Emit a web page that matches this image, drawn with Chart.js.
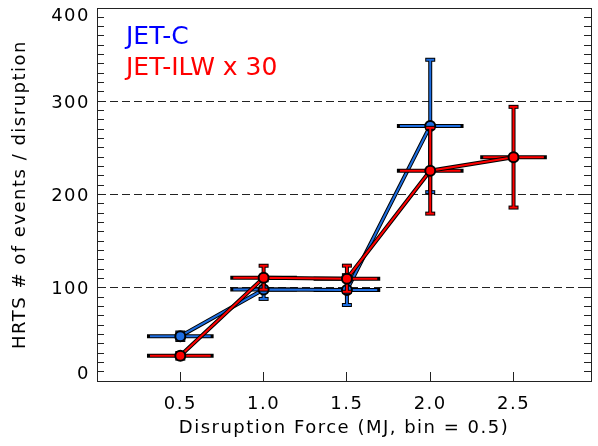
<!DOCTYPE html>
<html>
<head>
<meta charset="utf-8">
<script src="https://cdn.jsdelivr.net/npm/chart.js@4.4.1/dist/chart.umd.min.js"></script>
<style>
  html, body { margin: 0; padding: 0; background: #fff; }
  canvas { display: block; }
</style>
</head>
<body>
<canvas id="c" width="598" height="446"></canvas>
<script>
// HRTS events per disruption vs disruption force, JET-C vs JET-ILW (x30)
const forceBins = [0.5, 1.0, 1.5, 2.0, 2.5];
const binHalfWidth = 0.2;
const jetC = [48, 98, 97.5, 273.5];
const jetCErr = [4, 10, 16, 71];
const jetIlw = [27, 110.8, 109.7, 225.5, 240];
const jetIlwErr = [3, 12.8, 14, 46, 54];
const xTickValues = [0.5, 1.0, 1.5, 2.0, 2.5];
const yTickLabels = [0, 100, 200, 300, 400];
const legendLabels = ['JET-C', 'JET-ILW x 30'];

const BLUE = '#1e6ee1';
const RED = '#ff0000';
const AXIS = '#222';
const FONT = 'DejaVu Sans';

function pts(ys) { return ys.map((y, i) => ({ x: forceBins[i], y })); }

// minor tick marks every 10 on both y axes
function yMinorTicks() {
  const t = [];
  for (let v = 0; v <= 400; v += 10) t.push({ value: v });
  return t;
}

function seg(ctx, x1, y1, x2, y2, color, w) {
  ctx.strokeStyle = color;
  ctx.lineWidth = w;
  ctx.lineCap = 'butt';
  ctx.beginPath();
  ctx.moveTo(x1, y1);
  ctx.lineTo(x2, y2);
  ctx.stroke();
}

// error bars (x = bin width, y = errY) drawn just before each series' outline line
const errorBars = {
  id: 'errorBars',
  beforeDatasetDraw(chart, args) {
    const ds = chart.data.datasets[args.index];
    if (!ds.errY) return;
    const { ctx, scales: { x, y } } = chart;
    ctx.save();
    const bars = ds.data.map((p, i) => ({
      px: x.getPixelForValue(p.x),
      py: y.getPixelForValue(p.y),
      xl: x.getPixelForValue(p.x - binHalfWidth),
      xr: x.getPixelForValue(p.x + binHalfWidth),
      yt: y.getPixelForValue(p.y + ds.errY[i]),
      yb: y.getPixelForValue(p.y - ds.errY[i]),
    }));
    bars.forEach((b) => {
      seg(ctx, b.xl, b.py, b.xr, b.py, '#000', 4);
      seg(ctx, b.px, b.yt, b.px, b.yb, '#000', 4);
      [b.yt, b.yb].forEach((cy) => seg(ctx, b.px - 5, cy, b.px + 5, cy, '#000', 4));
    });
    bars.forEach((b) => {
      seg(ctx, b.xl + 3, b.py, b.xr - 3, b.py, ds.errColor, 2);
      seg(ctx, b.px, b.yt, b.px, b.yb, ds.errColor, 2);
      [b.yt, b.yb].forEach((cy) => seg(ctx, b.px - 4, cy, b.px + 4, cy, ds.errColor, 2));
    });
    ctx.restore();
  },
};

// y labels are kept inside the axis range at the ends, like the original plot
const yLabels = {
  id: 'yLabels',
  afterDraw(chart) {
    const { ctx, chartArea, scales: { y } } = chart;
    ctx.save();
    ctx.font = `18px ${FONT}`;
    ctx.fillStyle = '#000';
    ctx.textAlign = 'right';
    ctx.textBaseline = 'middle';
    yTickLabels.forEach((v) => {
      let py = y.getPixelForValue(v) + 2;
      py = Math.min(Math.max(py, chartArea.top + 8), chartArea.bottom - 7);
      ctx.fillText(String(v), chartArea.left - 7, py);
    });
    ctx.restore();
  },
};

const legendText = {
  id: 'legendText',
  afterDatasetsDraw(chart) {
    const { ctx, chartArea } = chart;
    const colors = ['#0000ff', '#ff0000'];
    ctx.save();
    ctx.letterSpacing = '0px';
    ctx.font = `25px ${FONT}`;
    ctx.textAlign = 'left';
    ctx.textBaseline = 'alphabetic';
    legendLabels.forEach((t, i) => {
      ctx.fillStyle = colors[i];
      ctx.fillText(t, chartArea.left + 29, chartArea.top + 36 + 31 * i);
    });
    ctx.restore();
  },
};

const textSpacing = {
  id: 'textSpacing',
  beforeDraw(chart) { chart.ctx.letterSpacing = '1.5px'; },
};

new Chart(document.getElementById('c'), {
  type: 'scatter',
  data: {
    datasets: [
      { label: legendLabels[1], data: pts(jetIlw), showLine: true, borderColor: RED, borderWidth: 2,
        pointRadius: 5, pointBackgroundColor: RED, pointBorderColor: '#000', pointBorderWidth: 2 },
      { data: pts(jetIlw), showLine: true, borderColor: '#000', borderWidth: 4, pointRadius: 0,
        errY: jetIlwErr, errColor: RED },
      { label: legendLabels[0], data: pts(jetC), showLine: true, borderColor: BLUE, borderWidth: 2,
        pointRadius: 5, pointBackgroundColor: BLUE, pointBorderColor: '#000', pointBorderWidth: 2 },
      { data: pts(jetC), showLine: true, borderColor: '#000', borderWidth: 4, pointRadius: 0,
        errY: jetCErr, errColor: BLUE },
    ],
  },
  options: {
    responsive: false,
    animation: false,
    layout: { padding: { top: 8, left: 0, right: 0, bottom: 0 } },
    plugins: { legend: { display: false }, tooltip: { enabled: false } },
    scales: {
      x: {
        type: 'linear', position: 'bottom', min: 0, max: 2.965,
        afterBuildTicks: (s) => { s.ticks = xTickValues.map((v) => ({ value: v })); },
        afterFit: (s) => { s.height = 65; },
        ticks: { callback: (v) => Number(v).toFixed(1), color: '#000', font: { family: FONT, size: 18 },
          padding: 22, maxRotation: 0, autoSkip: false },
        grid: { drawOnChartArea: false, tickLength: -9, tickColor: AXIS, tickWidth: 1 },
        border: { color: AXIS, width: 1 },
        title: { display: true, text: 'Disruption Force (MJ, bin = 0.5)', color: '#000',
          font: { family: FONT, size: 18 }, padding: { top: 0, bottom: 7 } },
      },
      x2: {
        type: 'linear', position: 'top', min: 0, max: 2.965,
        afterFit: (s) => { s.height = 0; },
        ticks: { display: false },
        grid: { drawOnChartArea: false, drawTicks: false },
        border: { color: AXIS, width: 1 },
      },
      y: {
        type: 'linear', position: 'left', min: 0, max: 400,
        afterBuildTicks: (s) => { s.ticks = yMinorTicks(); },
        afterFit: (s) => { s.width = 97; },
        ticks: { display: false },
        grid: {
          color: (c) => (c.tick && c.tick.value % 100 === 0 ? AXIS : 'rgba(0,0,0,0)'),
          tickColor: AXIS, tickLength: -7, lineWidth: 1,
        },
        border: { color: AXIS, width: 1, dash: [8, 4] },
        title: { display: true, text: 'HRTS # of events / disruption', color: '#000',
          font: { family: FONT, size: 18 }, padding: { top: 10, bottom: 0 } },
      },
      y2: {
        type: 'linear', position: 'right', min: 0, max: 400,
        afterBuildTicks: (s) => { s.ticks = yMinorTicks(); },
        afterFit: (s) => { s.width = 1; },
        ticks: { display: false },
        grid: { drawOnChartArea: false, tickColor: AXIS, tickLength: -7 },
        border: { color: AXIS, width: 1 },
      },
    },
  },
  plugins: [textSpacing, errorBars, yLabels, legendText],
});
</script>
</body>
</html>
